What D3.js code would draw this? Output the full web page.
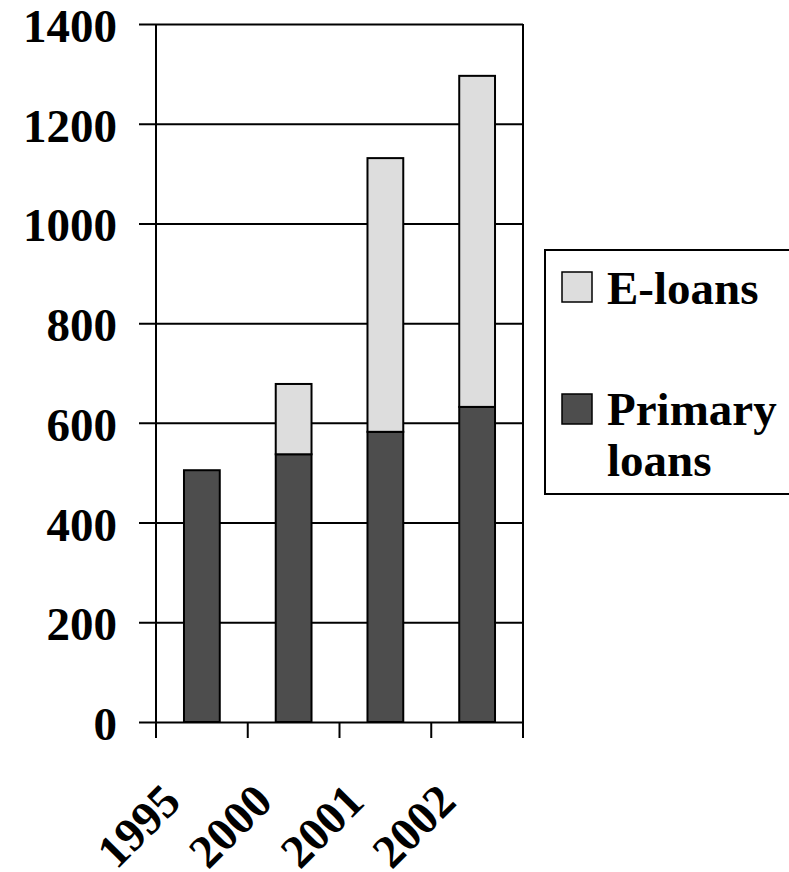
<!DOCTYPE html>
<meta charset="utf-8">
<style>
    body { margin: 0; background: #fff; }
    svg text {
        font-family: "Liberation Serif", "Times New Roman", serif;
        font-weight: bold;
        font-size: 47px;
    }
</style>
<body>
<script src="https://cdn.jsdelivr.net/npm/d3@7"></script>
<script>
    // data
    var years = ["1995", "2000", "2001", "2002"];
    var primaryLoans = [505, 537, 582, 632];
    var eLoans = [0, 141, 549, 664];
    var yTicks = [0, 200, 400, 600, 800, 1000, 1200, 1400];
    var seriesNames = ["E-loans", "Primary loans"];

    var width = 789, height = 872;
    var plotLeft = 156, plotRight = 523, plotTop = 24, plotBottom = 722;

    var svg = d3.select("body").append("svg")
        .attr("width", width)
        .attr("height", height);

    var x = d3.scaleBand().domain(years).range([plotLeft, plotRight]).paddingInner(0.61).paddingOuter(0.305);
    var y = d3.scaleLinear().domain([0, 1400]).range([plotBottom, plotTop]);

    var rows = years.map(function(yr, i) {
        return { year: yr, primary: primaryLoans[i], eloans: eLoans[i] };
    });
    var stack = d3.stack().keys(["primary", "eloans"])(rows);
    var fills = { primary: "#4d4d4d", eloans: "#dddddd" };

    // gridlines + left ticks
    var yAxis = d3.axisLeft(y).tickValues(yTicks).tickSize(17).tickFormat("");
    svg.append("g").attr("transform", "translate(" + plotLeft + ",0)").call(yAxis)
        .call(function(g) {
            g.select(".domain").remove();
            g.selectAll(".tick line").attr("x2", plotRight - plotLeft).attr("x1", -17)
                .attr("stroke", "#000").attr("stroke-width", 2);
        });

    // y labels
    svg.append("g").selectAll("text").data(yTicks).enter().append("text")
        .attr("x", 117)
        .attr("y", function(d) { return y(d) + 18; })
        .attr("text-anchor", "end")
        .text(function(d) { return d; });

    // left & right frame lines
    svg.append("line").attr("x1", plotLeft).attr("x2", plotLeft).attr("y1", plotTop).attr("y2", plotBottom + 16)
        .attr("stroke", "#000").attr("stroke-width", 2);
    svg.append("line").attr("x1", plotRight).attr("x2", plotRight).attr("y1", plotTop).attr("y2", plotBottom + 16)
        .attr("stroke", "#000").attr("stroke-width", 2);

    // category ticks
    var step = x.step();
    var tickXs = d3.range(years.length + 1).map(function(i) { return plotLeft + i * step; });
    svg.append("g").selectAll("line").data(tickXs).enter().append("line")
        .attr("x1", function(d) { return d; }).attr("x2", function(d) { return d; })
        .attr("y1", plotBottom).attr("y2", plotBottom + 16)
        .attr("stroke", "#000").attr("stroke-width", 2);

    // bars
    svg.append("g").selectAll("g").data(stack).enter().append("g")
        .attr("fill", function(s) { return fills[s.key]; })
        .selectAll("rect").data(function(s) { return s.filter(function(d) { return d[1] > d[0]; }); })
        .enter().append("rect")
        .attr("x", function(d) { return x(d.data.year); })
        .attr("width", x.bandwidth())
        .attr("y", function(d) { return y(d[1]); })
        .attr("height", function(d) { return y(d[0]) - y(d[1]); })
        .attr("stroke", "#000")
        .attr("stroke-width", 2);

    // x labels, rotated
    svg.append("g").selectAll("text").data(years).enter().append("text")
        .attr("text-anchor", "end")
        .attr("transform", function(d) {
            return "translate(" + (x(d) + x.bandwidth() / 2 - 19) + "," + 804 + ") rotate(-45)";
        })
        .text(function(d) { return d; });

    // legend
    var lg = svg.append("g");
    lg.append("rect").attr("x", 545).attr("y", 250).attr("width", 260).attr("height", 244)
        .attr("fill", "#fff").attr("stroke", "#000").attr("stroke-width", 2);
    lg.append("rect").attr("x", 562).attr("y", 272).attr("width", 30).attr("height", 30)
        .attr("fill", fills.eloans).attr("stroke", "#000").attr("stroke-width", 1.5);
    lg.append("text").attr("x", 607).attr("y", 304).text(seriesNames[0]);
    lg.append("rect").attr("x", 562).attr("y", 394).attr("width", 30).attr("height", 30)
        .attr("fill", fills.primary).attr("stroke", "#000").attr("stroke-width", 1.5);
    var t = lg.append("text").attr("x", 607).attr("y", 425);
    t.append("tspan").attr("x", 607).text(seriesNames[1].split(" ")[0]);
    t.append("tspan").attr("x", 607).attr("dy", 51).text(seriesNames[1].split(" ")[1]);
</script>
</body>
</html>
